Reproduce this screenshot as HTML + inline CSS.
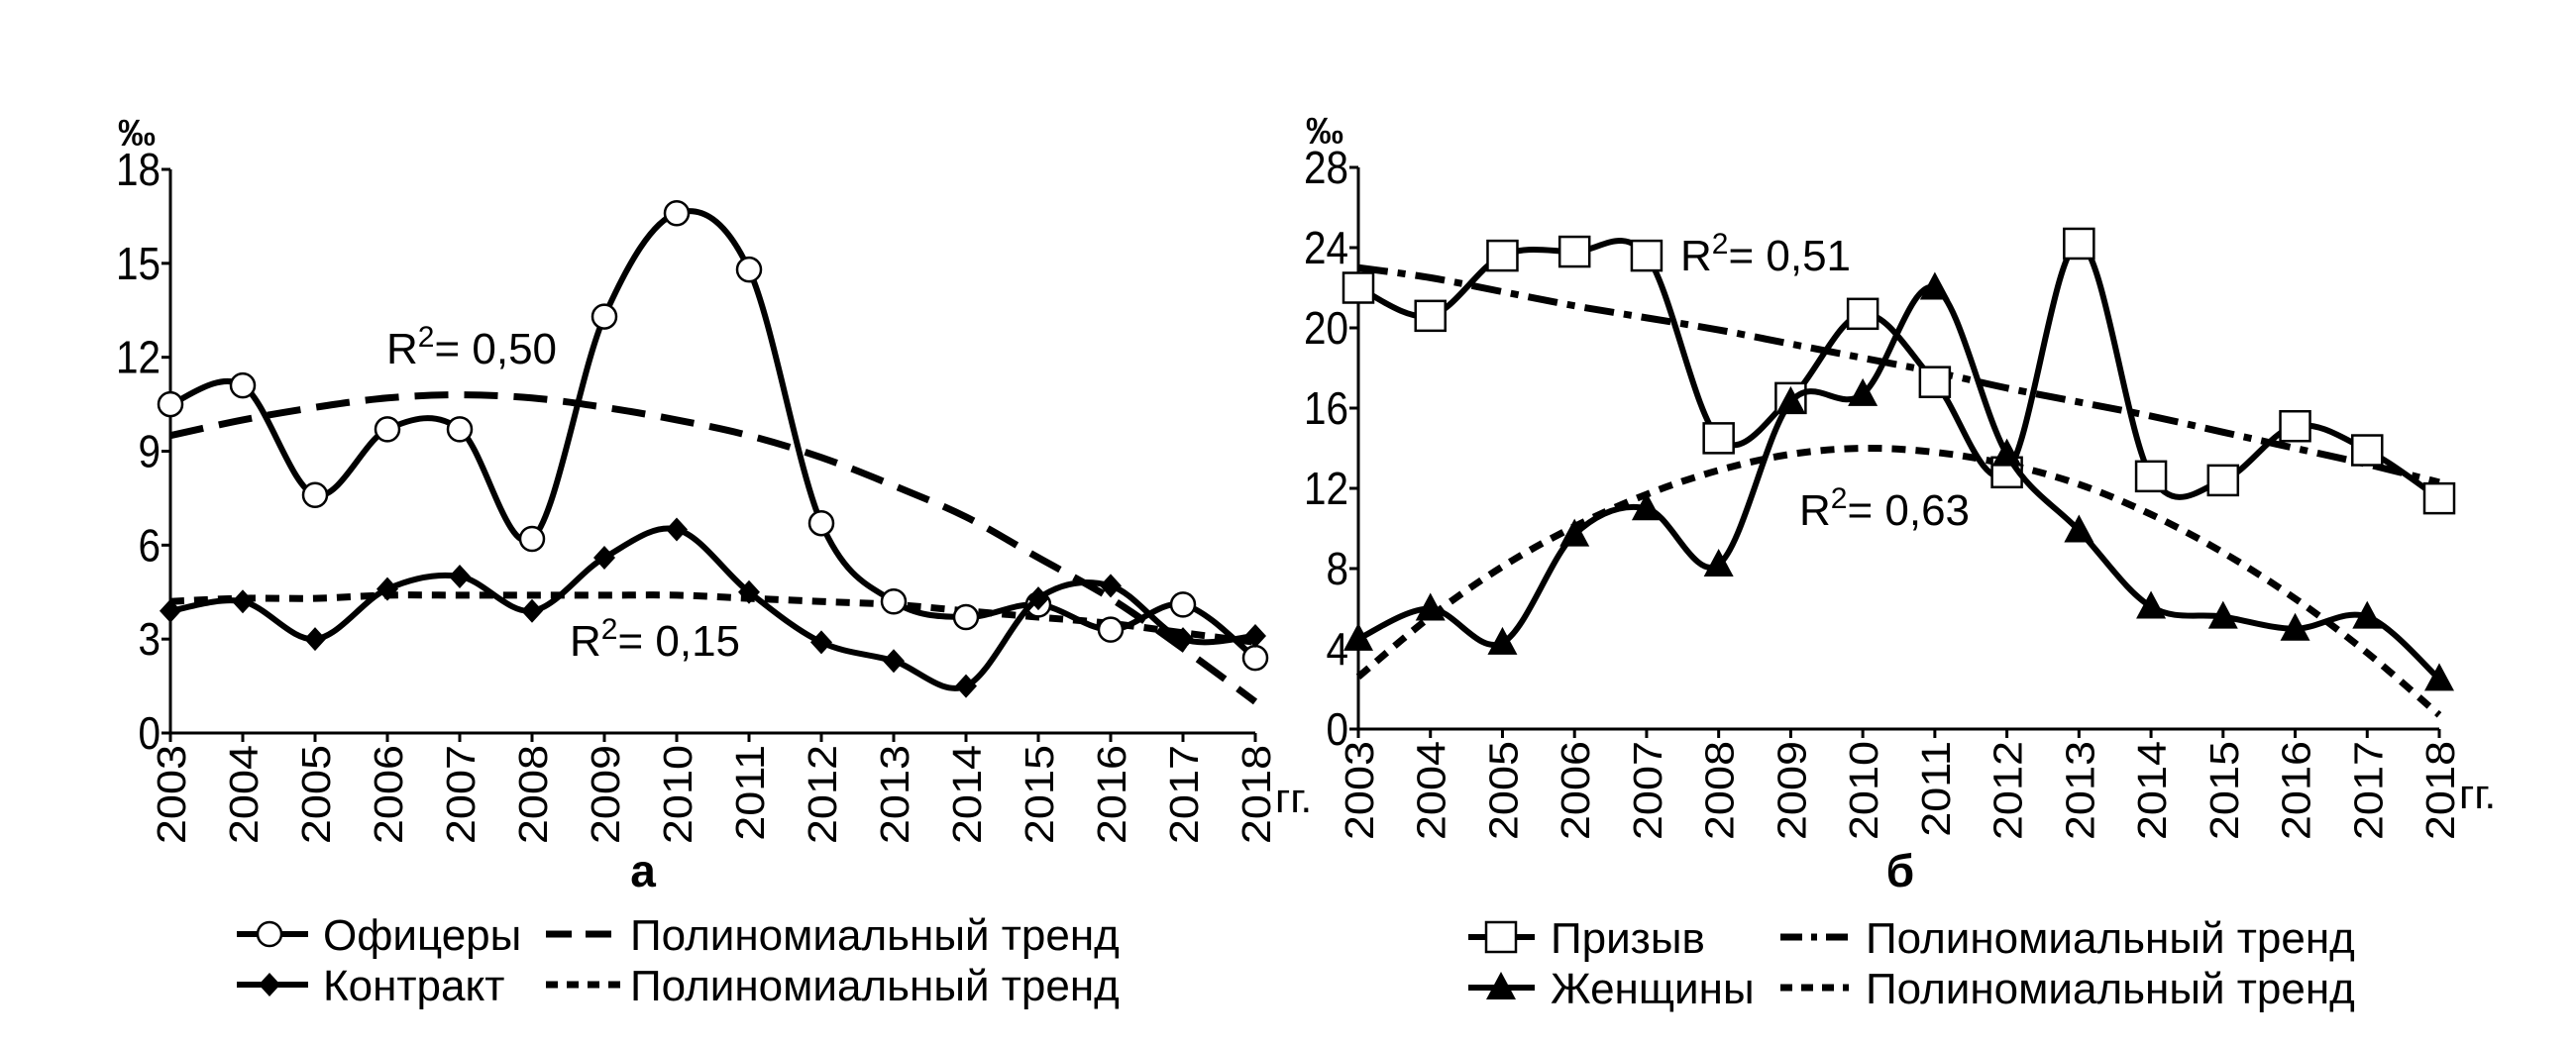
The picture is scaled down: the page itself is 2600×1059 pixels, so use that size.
<!DOCTYPE html>
<html><head><meta charset="utf-8"><style>
html,body{margin:0;padding:0;background:#fff;}
svg{display:block;font-family:"Liberation Sans","DejaVu Sans",sans-serif;}
</style></head><body>
<svg id="c" width="2600" height="1059" viewBox="0 0 2600 1059"></svg>
<script>
const years = [2003,2004,2005,2006,2007,2008,2009,2010,2011,2012,2013,2014,2015,2016,2017,2018];
const officers = [10.5,11.1,7.6,9.7,9.7,6.2,13.3,16.6,14.8,6.7,4.2,3.7,4.1,3.3,4.1,2.4];
const contract = [3.9,4.2,3.0,4.6,5.0,3.9,5.6,6.5,4.5,2.9,2.3,1.5,4.3,4.7,3.0,3.1];
const officersTrend = [9.5,10.0,10.4,10.7,10.8,10.7,10.4,10.0,9.5,8.8,7.9,6.9,5.6,4.3,2.7,1.0];
const contractTrend = [4.2,4.3,4.3,4.4,4.4,4.4,4.4,4.4,4.3,4.2,4.1,3.9,3.7,3.5,3.2,2.9];
const draft = [22.0,20.6,23.6,23.8,23.6,14.5,16.5,20.7,17.3,12.8,24.2,12.6,12.4,15.1,13.9,11.5];
const women = [4.5,6.0,4.3,9.7,11.0,8.2,16.3,16.7,22.0,13.7,9.9,6.1,5.6,5.0,5.6,2.5];
const draftTrend = [23.0,22.5,21.8,21.1,20.5,19.9,19.2,18.5,17.8,17.0,16.3,15.6,14.8,14.0,13.2,12.3];
const womenTrend = [2.6,5.6,8.1,10.1,11.7,12.9,13.7,14.0,13.8,13.2,12.2,10.7,8.8,6.5,3.8,0.7];
const leftTicks = [0,3,6,9,12,15,18];
const rightTicks = [0,4,8,12,16,20,24,28];

const NS="http://www.w3.org/2000/svg";
const svg=document.getElementById('c');
function mk(tag,attrs,parent){const e=document.createElementNS(NS,tag);for(const k in attrs)e.setAttribute(k,attrs[k]);(parent||svg).appendChild(e);return e;}
function txt(s,attrs,parent){const e=mk('text',attrs,parent);e.textContent=s;return e;}
function spline(pts){let d='M'+pts[0][0]+','+pts[0][1];for(let i=0;i<pts.length-1;i++){const p0=pts[i-1]||pts[i],p1=pts[i],p2=pts[i+1],p3=pts[i+2]||p2;const t=6;d+=' C'+(p1[0]+(p2[0]-p0[0])/t)+','+(p1[1]+(p2[1]-p0[1])/t)+' '+(p2[0]-(p3[0]-p1[0])/t)+','+(p2[1]-(p3[1]-p1[1])/t)+' '+p2[0]+','+p2[1];}return d;}

function panel(cfg){
  const g=mk('g',{});
  
  
  const X=i=>cfg.x0+(cfg.x1-cfg.x0)*i/(years.length-1);
  const Y=v=>cfg.y0-(cfg.y0-cfg.yTop)*v/cfg.max;
  const ax=mk('path',{d:`M${cfg.x0},${cfg.yTop} L${cfg.x0},${cfg.y0} L${cfg.x1},${cfg.y0}`,stroke:'#000','stroke-width':3,fill:'none'},g);
  
  cfg.ticks.forEach(t=>{
    mk('line',{x1:cfg.x0-9,x2:cfg.x0,y1:Y(t),y2:Y(t),stroke:'#000','stroke-width':3},g);
    const l=txt(String(t),{x:0,y:0,'font-size':46,'text-anchor':'end',transform:`translate(${cfg.x0-10},${Y(t)+16}) scale(0.88,1)`},g);
    
  });
  years.forEach((yr,i)=>{
    mk('line',{x1:X(i),x2:X(i),y1:cfg.y0,y2:cfg.y0+9,stroke:'#000','stroke-width':3},g);
    const l=txt(String(yr),{x:0,y:0,'font-size':45,'text-anchor':'end',transform:`translate(${X(i)+15},${cfg.y0+12}) rotate(-90) scale(1,0.9)`},g);
    
  });
  const u=txt('‰',{x:cfg.x0-34,y:cfg.yTop-24,'font-size':38,'font-weight':'bold','text-anchor':'middle'},g);
  
  const gg=txt('гг.',{x:cfg.x1+20,y:cfg.y0+80,'font-size':42},g);
  
  const sub=txt(cfg.sub,{x:cfg.subX,y:895,'font-size':46,'font-weight':'bold','text-anchor':'middle','font-family':'Liberation Sans, sans-serif'},g);
  
  cfg.trends.forEach(tr=>{
    const p=mk('path',{d:spline(tr.data.map((v,i)=>[X(i),Y(v)])),stroke:'#000','stroke-width':7,fill:'none','stroke-dasharray':tr.dash},g);
    
  });
  cfg.series.forEach(s=>{
    const p=mk('path',{d:spline(s.data.map((v,i)=>[X(i),Y(v)])),stroke:'#000','stroke-width':6,fill:'none'},g);
    
    s.data.forEach((v,i)=>{const m=marker(s.m,X(i),Y(v),g);});
  });
  cfg.r2.forEach(r=>{
    const t=txt('',{x:r.x,y:r.y,'font-size':44},g);
    
    t.innerHTML='R<tspan dy="-17" font-size="30">2</tspan><tspan dy="17">= '+r.v+'</tspan>';
  });
}
function marker(type,x,y,g){
  if(type==='circle')return mk('circle',{cx:x,cy:y,r:12,fill:'#fff',stroke:'#000','stroke-width':2.5},g);
  if(type==='diamond')return mk('path',{d:`M${x},${y-12} L${x+11},${y} L${x},${y+12} L${x-11},${y}Z`,fill:'#000'},g);
  if(type==='square')return mk('rect',{x:x-15,y:y-15,width:30,height:30,fill:'#fff',stroke:'#000','stroke-width':2.5},g);
  return mk('path',{d:`M${x},${y-16} L${x+15},${y+12} L${x-15},${y+12}Z`,fill:'#000'},g);
}
panel({name:'chart-a',x0:172,x1:1267,y0:740,yTop:171,max:18,ticks:leftTicks,sub:'а',subX:649,
  series:[{name:'officers',data:officers,m:'circle'},{name:'contract',data:contract,m:'diamond'}],
  trends:[{name:'officers-trend',data:officersTrend,dash:'34,16'},{name:'contract-trend',data:contractTrend,dash:'14,10'}],
  r2:[{x:390,y:367,v:'0,50'},{x:575,y:662,v:'0,15'}]});
panel({name:'chart-b',x0:1371,x1:2462,y0:736,yTop:169,max:28,ticks:rightTicks,sub:'б',subX:1918,
  series:[{name:'draft',data:draft,m:'square'},{name:'women',data:women,m:'triangle'}],
  trends:[{name:'draft-trend',data:draftTrend,dash:'30,10,8,10'},{name:'women-trend',data:womenTrend,dash:'14,10'}],
  r2:[{x:1696,y:273,v:'0,51'},{x:1816,y:530,v:'0,63'}]});

function legend(x1,x2,mx,tx,y,m,label,name){
  const g=mk('g',{});
  
  if(m==='dash'||m==='dot'||m==='dashdot'){
    const da=m==='dash'?'26,14':m==='dot'?'12,9':'22,9,6,9';
    mk('line',{x1:x1,x2:x2,y1:y,y2:y,stroke:'#000','stroke-width':7,'stroke-dasharray':da},g);
  } else {mk('line',{x1:x1,x2:x2,y1:y,y2:y,stroke:'#000','stroke-width':6},g);marker(m,mx,y,g);}
  txt(label,{x:tx,y:y+16,'font-size':44},g);
}
legend(239,311,272,326,943,'circle','Офицеры','legend-officers');
legend(239,311,272,326,994,'diamond','Контракт','legend-contract');
legend(551,626,0,636,943,'dash','Полиномиальный тренд','legend-officers-trend');
legend(551,626,0,636,994,'dot','Полиномиальный тренд','legend-contract-trend');
legend(1482,1549,1515,1565,946,'square','Призыв','legend-draft');
legend(1482,1549,1515,1565,997,'triangle','Женщины','legend-women');
legend(1797,1866,0,1883,946,'dashdot','Полиномиальный тренд','legend-draft-trend');
legend(1797,1866,0,1883,997,'dot','Полиномиальный тренд','legend-women-trend');
</script>
</body></html>
